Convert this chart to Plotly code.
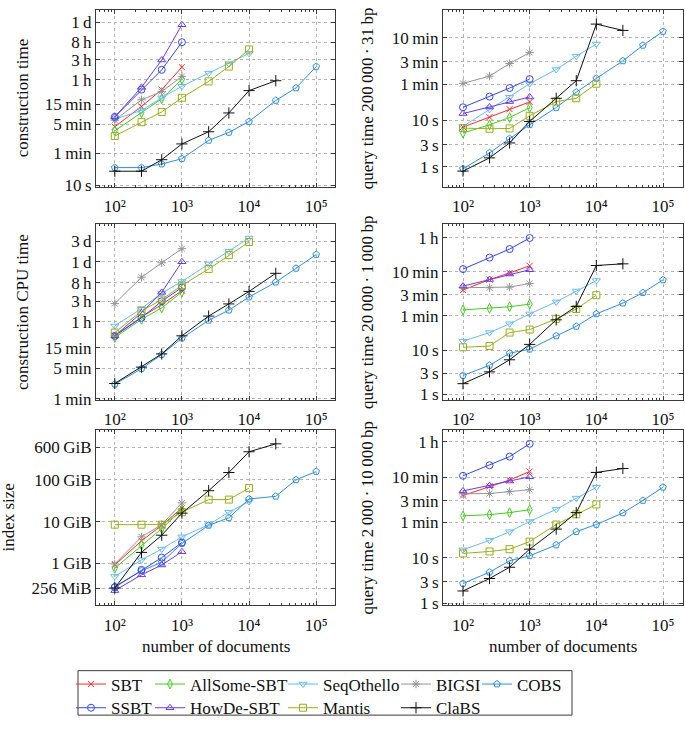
import plotly.graph_objects as go

# ---------------- data ----------------
N_DOCS = [100, 250, 500, 1000, 2500, 5000, 10000, 25000, 50000, 100000]

TOOLS = ["SBT", "AllSome-SBT", "SeqOthello", "BIGSI", "COBS",
         "SSBT", "HowDe-SBT", "Mantis", "ClaBS"]

# construction time [s]
construction_time = {
    "SBT": [260, 807, 2055, 7145],
    "AllSome-SBT": [208, 571, 1233, 3640],
    "SeqOthello": [395, 648, 1302, 2473, 5140, 8750, 15450],
    "BIGSI": [374, 1167, 1841, 4285],
    "COBS": [26.8, 26.8, 32.7, 43.9, 122, 190, 348, 1124, 2255, 7410],
    "SSBT": [451, 2055, 6180, 28770],
    "HowDe-SBT": [451, 2339, 10690, 76000],
    "Mantis": [156, 336, 593, 1302, 3250, 7410, 19230],
    "ClaBS": [21.9, 21.9, 41.6, 100, 197, 561, 1945, 3370],
}

# query time 200000 x 31 bp [s]
query_time_200k = {
    "SBT": [7.16, 11.7, 17.4, 24.9],
    "AllSome-SBT": [5.33, 8.03, 11.5, 18.8],
    "SeqOthello": [7.4, 17.1, 31.3, 61.4, 124, 239, 439],
    "BIGSI": [62.4, 89.3, 167, 287],
    "COBS": [0.91, 1.99, 4.03, 8.03, 18.8, 40.1, 79.7, 190, 411, 816],
    "SSBT": [19.1, 32.4, 49.5, 77.1],
    "HowDe-SBT": [14.0, 19.4, 25.3, 31.8],
    "Mantis": [6.81, 6.59, 6.7, 12.5, 25.3, 29.8, 61.4],
    "ClaBS": [0.81, 1.56, 3.26, 9.47, 29.8, 71.2, 1175, 859],
}

# construction CPU time [s]
construction_cpu_time = {
    "SBT": [1702, 4610, 9000, 18760],
    "AllSome-SBT": [1556, 4090, 7530, 17450],
    "SeqOthello": [2880, 7280, 16560, 30600, 77500, 153500, 308500],
    "BIGSI": [9460, 38370, 82800, 175800],
    "COBS": [130, 296, 628, 1507, 3880, 6670, 13430, 29500, 61500, 128300],
    "SSBT": [1702, 4450, 10700, 22300],
    "HowDe-SBT": [1702, 5790, 17170, 87500],
    "Mantis": [2025, 6330, 11700, 24800, 59600, 124500, 250000],
    "ClaBS": [135, 322, 650, 1702, 4865, 9290, 18080, 47300],
}

# query time 20000 x 1000 bp [s]
query_time_20k = {
    "SBT": [232, 402, 566, 826],
    "AllSome-SBT": [81.8, 88.9, 97, 111],
    "SeqOthello": [16.0, 25.1, 39.8, 66.6, 125, 221, 382],
    "BIGSI": [262, 262, 271, 327],
    "COBS": [2.66, 4.51, 8.53, 10.5, 21.1, 34.7, 66.6, 117, 202, 395],
    "SSBT": [695, 1267, 1982, 3540],
    "HowDe-SBT": [285, 402, 537, 671],
    "Mantis": [11.6, 12.4, 25.1, 29.3, 51.4, 86.1, 177],
    "ClaBS": [1.73, 3.21, 6.04, 13.5, 48.9, 98.5, 839, 915],
}

# index size [GiB]
index_size = {
    "SBT": [0.91, 3.45, 8.11, 21.0],
    "AllSome-SBT": [0.76, 2.72, 6.76, 19.4],
    "SeqOthello": [0.483, 1.20, 2.19, 4.30, 8.42, 16.8, 30.1],
    "BIGSI": [0.96, 4.30, 8.42, 28.0],
    "COBS": [0.28, 0.657, 1.06, 2.98, 8.11, 12.3, 34.8, 40.3, 100, 158],
    "SSBT": [0.265, 0.694, 1.37, 3.15],
    "HowDe-SBT": [0.221, 0.528, 0.91, 1.89],
    "Mantis": [8.42, 8.42, 8.42, 16.8, 33.6, 33.6, 63.5],
    "ClaBS": [0.255, 1.82, 4.70, 15.9, 54.9, 150, 471, 730],
}

# query time 2000 x 10000 bp [s]
query_time_2k = {
    "SBT": [236, 377, 517, 800],
    "AllSome-SBT": [83.9, 89.6, 99, 115],
    "SeqOthello": [15.0, 24.3, 37.7, 63.1, 117, 207, 359],
    "BIGSI": [257, 261, 288, 318],
    "COBS": [2.72, 4.82, 8.63, 11.1, 19.2, 37.7, 54.2, 97.5, 183, 359],
    "SSBT": [642, 1097, 1698, 3255],
    "HowDe-SBT": [298, 389, 492, 611],
    "Mantis": [12.5, 13.8, 15.5, 22.8, 54.2, 91, 150],
    "ClaBS": [1.86, 3.50, 6.19, 15.5, 42.9, 99, 761, 929],
}

X_TICKS = [100, 1000, 10000, 100000]
X_TICKTEXT = ["10\u00b2", "10\u00b3", "10\u2074", "10\u2075"]

T = "\u2009"
CONS_TICKS = [10, 60, 300, 900, 3600, 10800, 28800, 86400]
CONS_TEXT = ["10" + T + "s", "1" + T + "min", "5" + T + "min", "15" + T + "min",
             "1" + T + "h", "3" + T + "h", "8" + T + "h", "1" + T + "d"]
CPU_TICKS = [60, 300, 900, 3600, 10800, 28800, 86400, 259200]
CPU_TEXT = ["1" + T + "min", "5" + T + "min", "15" + T + "min", "1" + T + "h",
            "3" + T + "h", "8" + T + "h", "1" + T + "d", "3" + T + "d"]
Q1_TICKS = [1, 3, 10, 60, 180, 600]
Q1_TEXT = ["1" + T + "s", "3" + T + "s", "10" + T + "s", "1" + T + "min",
           "3" + T + "min", "10" + T + "min"]
Q2_TICKS = [1, 3, 10, 60, 180, 600, 3600]
Q2_TEXT = Q1_TEXT + ["1" + T + "h"]
SIZE_TICKS = [0.25, 1, 10, 100, 600]
SIZE_TEXT = ["256" + T + "MiB", "1" + T + "GiB", "10" + T + "GiB",
             "100" + T + "GiB", "600" + T + "GiB"]

X_TITLE = "number of documents"

# ---------------- styles ----------------
COLORS = {
    "SBT": "#ff2a2a",
    "AllSome-SBT": "#44cc1f",
    "SeqOthello": "#66bbf5",
    "BIGSI": "#959595",
    "COBS": "#2f8fe0",
    "SSBT": "#3346f0",
    "HowDe-SBT": "#6a3cf0",
    "Mantis": "#99b019",
    "ClaBS": "#111111",
}
SYMBOLS = {
    "SBT": "x-thin-open",
    "AllSome-SBT": "diamond-tall-open",
    "SeqOthello": "triangle-down-open",
    "BIGSI": "asterisk-open",
    "COBS": "pentagon-open",
    "SSBT": "circle-open",
    "HowDe-SBT": "triangle-up-open",
    "Mantis": "square-open",
    "ClaBS": "cross-thin-open",
}
MSIZE = {
    "SBT": 6, "AllSome-SBT": 7, "SeqOthello": 7, "BIGSI": 7, "COBS": 7,
    "SSBT": 7, "HowDe-SBT": 7, "Mantis": 7, "ClaBS": 8,
}
# legend cell (column, row) of each tool inside the legend box
LEGEND_CELL = {
    "SBT": (0, 0), "SSBT": (0, 1),
    "AllSome-SBT": (1, 0), "HowDe-SBT": (1, 1),
    "SeqOthello": (2, 0), "Mantis": (2, 1),
    "BIGSI": (3, 0), "ClaBS": (3, 1),
    "COBS": (4, 0),
}
LEGEND_ID = {tool: ("legend" if k == 0 else "legend%d" % (k + 1))
             for k, tool in enumerate(TOOLS)}

FONT = "Liberation Serif"
FS = 17
W, H = 685, 733
TXT = dict(family=FONT, size=FS, color="#111")

PANELS = [
    # data, yticks, ytext, yrange(log), title, col, row
    (construction_time, CONS_TICKS, CONS_TEXT, [0.967, 5.24], "construction time", 0, 0),
    (query_time_200k, Q1_TICKS, Q1_TEXT, [-0.427, 3.376],
     "query time 200" + T + "000" + T + "·" + T + "31" + T + "bp", 1, 0),
    (construction_cpu_time, CPU_TICKS, CPU_TEXT, [1.748, 5.809], "construction CPU time", 0, 1),
    (query_time_20k, Q2_TICKS, Q2_TEXT, [-0.134, 3.862],
     "query time 20" + T + "000" + T + "·" + T + "1" + T + "000" + T + "bp", 1, 1),
    (index_size, SIZE_TICKS, SIZE_TEXT, [-1.012, 3.203], "index size", 0, 2),
    (query_time_2k, Q2_TICKS, Q2_TEXT, [-0.05, 3.824],
     "query time 2" + T + "000" + T + "·" + T + "10" + T + "000" + T + "bp", 1, 2),
]

XPIX = [(96, 335), (443, 683)]
XDOMS = [[a / W, b / W] for (a, b) in XPIX]
XRANGES = [[1.72, 5.28], [1.70, 5.30]]
YPIX = [(10, 189), (227, 405), (435, 613)]
YDOMS = [[1 - b / H, 1 - t / H] for (t, b) in YPIX]
# centre x of the rotated y titles for each (col, row)
YTITLE_X = {(0, 0): 22, (0, 1): 22, (0, 2): 9, (1, 0): 367, (1, 1): 367, (1, 2): 368}
XTITLE_Y = 655

MINOR_X = [k * 10 ** e for e in range(1, 6) for k in range(2, 10)]

fig = go.Figure()
layout = {}
annotations = []

for i, (data, yt, ytxt, yr, ytitle, col, row) in enumerate(PANELS):
    n = i + 1
    xa = "x" if n == 1 else "x%d" % n
    ya = "y" if n == 1 else "y%d" % n
    for tool in TOOLS:
        vals = data[tool]
        fig.add_trace(go.Scatter(
            x=N_DOCS[:len(vals)], y=vals, xaxis=xa, yaxis=ya,
            mode="lines+markers", name=tool,
            line=dict(color=COLORS[tool], width=1),
            marker=dict(symbol=SYMBOLS[tool], size=MSIZE[tool], color=COLORS[tool],
                        line=dict(color=COLORS[tool], width=1)),
            legend=LEGEND_ID[tool], showlegend=(n == 1), legendgroup=tool,
        ))
    axcommon = dict(
        showline=True, linecolor="#3a3a3a", linewidth=1, mirror="ticks",
        ticks="inside", ticklen=4, tickcolor="#3a3a3a",
        showgrid=True, gridcolor="#b4b4b4", griddash="dot", gridwidth=1,
        zeroline=False, tickfont=TXT,
    )
    xkey = "xaxis" if n == 1 else "xaxis%d" % n
    ykey = "yaxis" if n == 1 else "yaxis%d" % n
    layout[xkey] = dict(
        axcommon, type="log", domain=XDOMS[col], range=XRANGES[col], anchor=ya,
        tickmode="array", tickvals=X_TICKS, ticktext=X_TICKTEXT, ticklabelstandoff=4,
        minor=dict(ticks="inside", ticklen=2, tickcolor="#3a3a3a",
                   tickmode="array", tickvals=MINOR_X, showgrid=False),
    )
    layout[ykey] = dict(
        axcommon, type="log", domain=YDOMS[row], range=yr, anchor=xa,
        tickmode="array", tickvals=yt, ticktext=ytxt,
    )
    t, b = YPIX[row]
    annotations.append(dict(
        text=ytitle, textangle=-90, xref="paper", yref="paper",
        x=YTITLE_X[(col, row)] / W, y=1 - (t + b) / 2 / H,
        xanchor="center", yanchor="middle", showarrow=False, font=TXT,
    ))
    if row == 2:
        a, c = XPIX[col]
        annotations.append(dict(
            text=X_TITLE, xref="paper", yref="paper",
            x=(a + c) / 2 / W, y=1 - XTITLE_Y / H,
            xanchor="center", yanchor="middle", showarrow=False, font=TXT,
        ))

# legend: one single-entry legend per cell of the reference legend box
LEG_COL_X = [71, 150, 283, 396, 477]
LEG_ROW_Y = [693, 717]
for tool in TOOLS:
    c, r = LEGEND_CELL[tool]
    layout[LEGEND_ID[tool]] = dict(
        orientation="v", xanchor="left", yanchor="middle",
        x=LEG_COL_X[c] / W, y=1 - LEG_ROW_Y[r] / H,
        bgcolor="rgba(0,0,0,0)", borderwidth=0, itemwidth=30, font=TXT,
    )

fig.update_layout(
    **layout,
    annotations=annotations,
    width=W, height=H, autosize=False,
    margin=dict(l=0, r=0, t=0, b=0),
    paper_bgcolor="white", plot_bgcolor="white",
    font=TXT,
    shapes=[dict(type="rect", xref="paper", yref="paper",
                 x0=78 / W, x1=572 / W, y0=1 - 724 / H, y1=1 - 679 / H,
                 line=dict(color="#3a3a3a", width=1), fillcolor="rgba(0,0,0,0)")],
)

POST = (
    "document.documentElement.style.margin='0';"
    "document.documentElement.style.padding='0';"
    "document.documentElement.style.overflow='hidden';"
    "document.body.style.margin='0';"
    "document.body.style.padding='0';"
    "document.body.style.overflow='hidden';"
    "var gd=document.getElementById('{plot_id}');"
    "gd.style.position='absolute';gd.style.left='0px';gd.style.top='0px';"
)

fig.write_html("out.html", config={"displayModeBar": False}, post_script=POST)
